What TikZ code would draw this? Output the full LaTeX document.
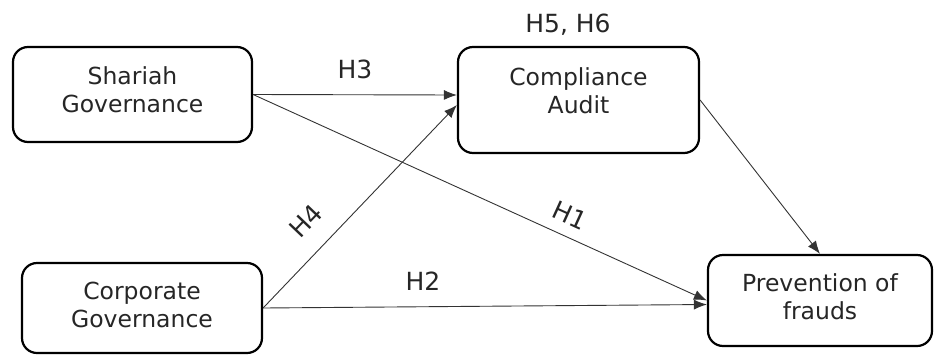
\documentclass[tikz,border=0pt]{standalone}
\usepackage{fontspec}
\setmainfont{DejaVu Sans}
\usetikzlibrary{arrows.meta}
\tikzset{>={Latex[width=10pt,length=13pt]}}

\tikzset{
  varbox/.style={draw=black, line width=2.2pt, rounded corners=15pt,
    align=center, font=\fontsize{23.5}{28}\selectfont, text=black!85},
  hyp/.style={font=\fontsize{25}{28}\selectfont, text=black!85},
  link/.style={->, line width=0.9pt, draw=black!80}
}

\begin{document}
\begin{tikzpicture}[x=1pt,y=-1pt]

  \useasboundingbox (0,0) rectangle (934,354);

  % variables
  \node[varbox, minimum width=239pt, minimum height=95pt, text depth=10pt] (sg) at (132.5,94.5) {Shariah\\Governance};
  \node[varbox, minimum width=241pt, minimum height=106pt, text depth=18pt] (ca) at (578.5,100) {Compliance\\Audit};
  \node[varbox, minimum width=240pt, minimum height=90pt, text depth=6pt] (cg) at (142,308) {Corporate\\Governance};
  \node[varbox, minimum width=224pt, minimum height=91pt, text depth=8pt] (pf) at (820,300.5) {Prevention of\\frauds};

  \node[hyp] (h56) at (568,25) {H5, H6};

  % hypotheses
  \draw[link] (sg.east) -- ([yshift=5pt]ca.west) node[hyp, midway, above=12pt] (h3) {H3};
  \draw[link] (sg.east) -- (pf.west) node[hyp, pos=0.68, sloped, above=8pt] (h1) {H1};
  \draw[link] (cg.east) -- ([yshift=-5pt]ca.west) node[hyp, pos=0.33, sloped, above=16pt] (h4) {H4};
  \draw[link] (cg.east) -- ([yshift=-4pt]pf.west) node[hyp, pos=0.36, above=12pt] (h2) {H2};
  \draw[link] (ca.east) -- (pf.north);

\end{tikzpicture}
\end{document}
